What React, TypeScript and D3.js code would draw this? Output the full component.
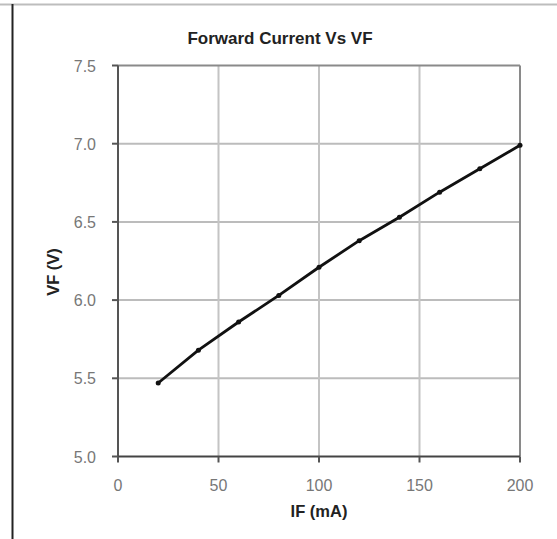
import React from "react";
import * as d3 from "d3";

const currents = [20, 40, 60, 80, 100, 120, 140, 160, 180, 200];
const voltages = [5.47, 5.68, 5.86, 6.03, 6.21, 6.38, 6.53, 6.69, 6.84, 6.99];
const xTicks = [0, 50, 100, 150, 200];
const yTicks = [5.0, 5.5, 6.0, 6.5, 7.0, 7.5];
const title = "Forward Current Vs VF";
const xTitle = "IF (mA)";
const yTitle = "VF (V)";

export default function App() {
  const W = 557, H = 539;
  const left = 118, right = 520, top = 65.5, bottom = 456.5;
  const x = d3.scaleLinear().domain([0, 200]).range([left, right]);
  const y = d3.scaleLinear().domain([5.0, 7.5]).range([bottom, top]);
  const line = d3.line<number>().x((_, i) => x(currents[i])).y((d) => y(d));
  const font = "'Liberation Sans', Arial, sans-serif";
  return (
    <svg width={W} height={H} style={{ position: "absolute", left: 0, top: 0, background: "#fff" }}>
      <line x1={0} x2={W} y1={4.5} y2={4.5} stroke="#bdbdbd" strokeWidth={2} />
      <line x1={12.5} x2={12.5} y1={4} y2={H} stroke="#222" strokeWidth={2} />
      <text x={280} y={44} textAnchor="middle" fontFamily={font} fontWeight="bold" fontSize={17} fill="#222">{title}</text>
      {yTicks.slice(1, -1).map((t) => (
        <line key={"gy" + t} x1={left} x2={right} y1={y(t)} y2={y(t)} stroke="#bcbcbc" strokeWidth={2} />
      ))}
      {xTicks.slice(1, -1).map((t) => (
        <line key={"gx" + t} x1={x(t)} x2={x(t)} y1={top} y2={bottom} stroke="#c4c4c4" strokeWidth={2} />
      ))}
      <line x1={left} x2={right} y1={top} y2={top} stroke="#8a8a8a" strokeWidth={2} />
      <line x1={right} x2={right} y1={top} y2={bottom} stroke="#8a8a8a" strokeWidth={2} />
      <line x1={left} x2={left} y1={top} y2={bottom + 5} stroke="#555" strokeWidth={2} />
      <line x1={left} x2={right} y1={bottom} y2={bottom} stroke="#444" strokeWidth={2} />
      {yTicks.map((t) => (
        <g key={"yt" + t}>
          <line x1={left - 6} x2={left} y1={y(t)} y2={y(t)} stroke="#555" strokeWidth={2} />
          <text x={96} y={y(t) + 6} textAnchor="end" fontFamily={font} fontSize={16} fill="#777">{t.toFixed(1)}</text>
        </g>
      ))}
      {xTicks.map((t) => (
        <g key={"xt" + t}>
          <line x1={x(t)} x2={x(t)} y1={bottom} y2={bottom + 6} stroke="#555" strokeWidth={2} />
          <text x={x(t)} y={491} textAnchor="middle" fontFamily={font} fontSize={16} fill="#777">{t}</text>
        </g>
      ))}
      <text x={x(100)} y={517} textAnchor="middle" fontFamily={font} fontWeight="bold" fontSize={16.5} fill="#222">{xTitle}</text>
      <text transform={`translate(59,${272}) rotate(-90)`} textAnchor="middle" fontFamily={font} fontWeight="bold" fontSize={16.5} fill="#222">{yTitle}</text>
      <path d={line(voltages) || ""} fill="none" stroke="#111" strokeWidth={2.8} strokeLinejoin="round" />
      {voltages.map((v, i) => (
        <circle key={"p" + i} cx={x(currents[i])} cy={y(v)} r={2.5} fill="#111" />
      ))}
    </svg>
  );
}
